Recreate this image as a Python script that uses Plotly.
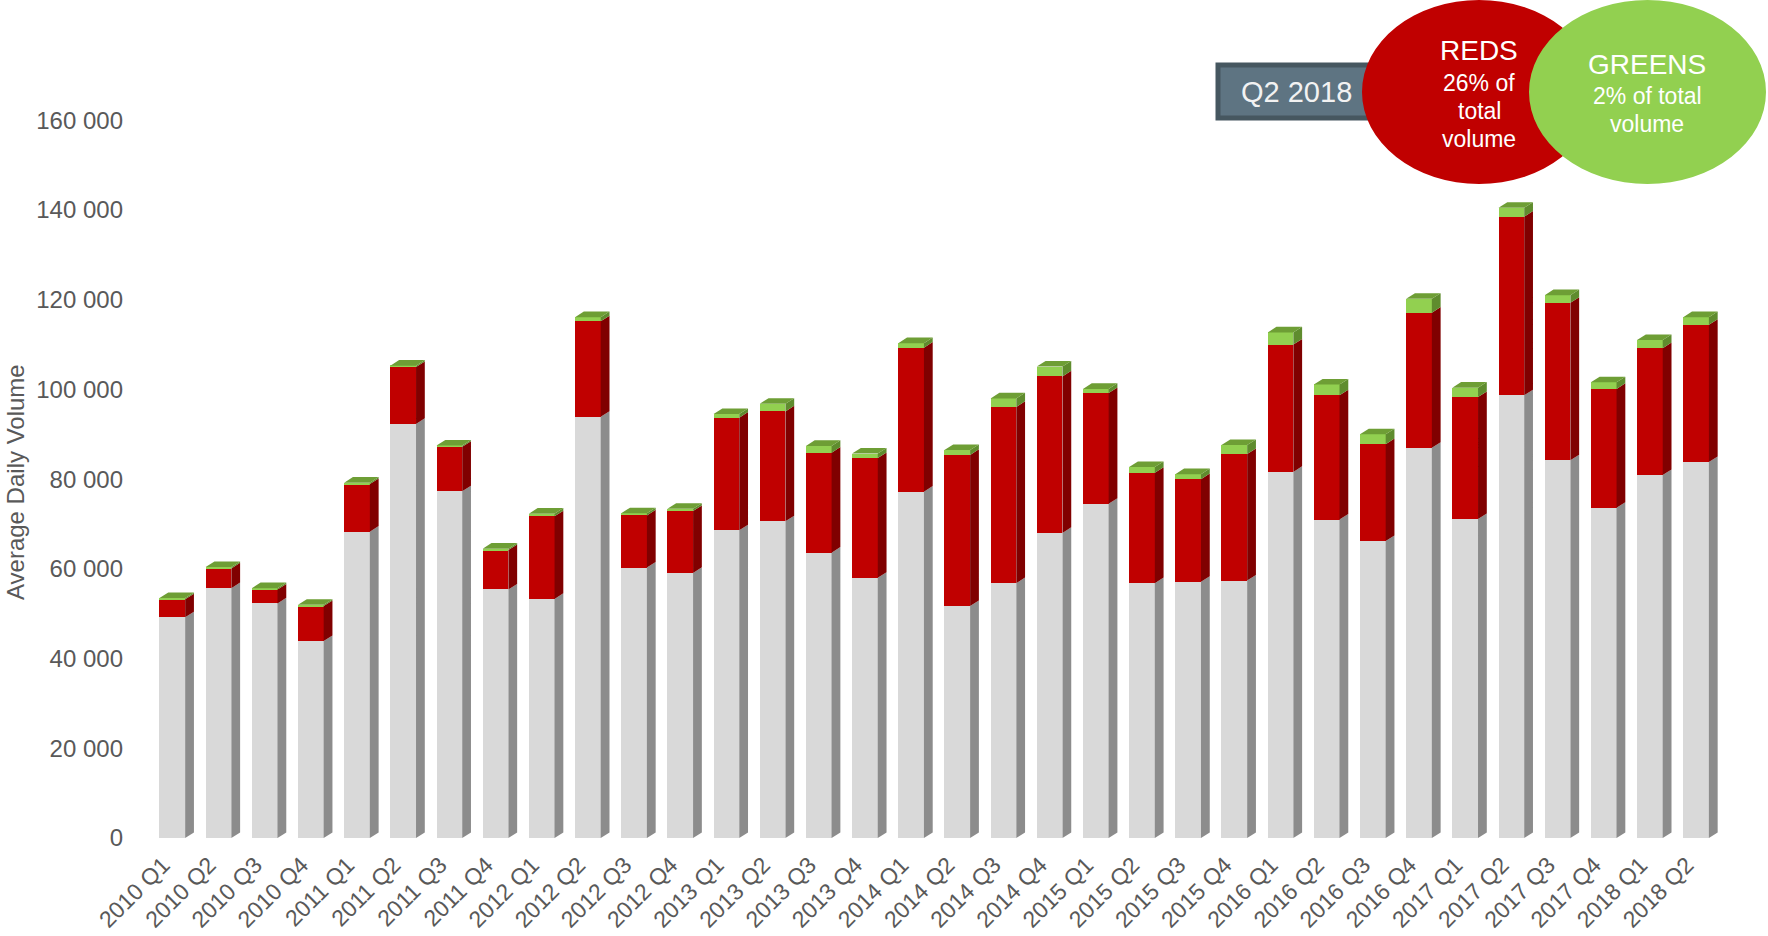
import plotly.graph_objects as go

# ---------------- data ----------------
categories = [
    "2010 Q1", "2010 Q2", "2010 Q3", "2010 Q4",
    "2011 Q1", "2011 Q2", "2011 Q3", "2011 Q4",
    "2012 Q1", "2012 Q2", "2012 Q3", "2012 Q4",
    "2013 Q1", "2013 Q2", "2013 Q3", "2013 Q4",
    "2014 Q1", "2014 Q2", "2014 Q3", "2014 Q4",
    "2015 Q1", "2015 Q2", "2015 Q3", "2015 Q4",
    "2016 Q1", "2016 Q2", "2016 Q3", "2016 Q4",
    "2017 Q1", "2017 Q2", "2017 Q3", "2017 Q4",
    "2018 Q1", "2018 Q2",
]
greys = [49200, 55700, 52300, 43900, 68300, 92300, 77300, 55400, 53300, 93900,
         60300, 59100, 68600, 70600, 63600, 58000, 77200, 51700, 56800, 68000,
         74500, 56800, 57100, 57400, 81600, 71000, 66200, 87000, 71100, 98700,
         84200, 73600, 80900, 83800]
reds = [4000, 4400, 3100, 7800, 10600, 12700, 9900, 8800, 18400, 21300,
        11600, 13800, 25100, 24500, 22300, 26700, 32100, 33700, 39300, 34900,
        24700, 24600, 22900, 28200, 28400, 27700, 21600, 30100, 27200, 39800,
        35100, 26500, 28300, 30600]
greens = [300, 300, 300, 300, 300, 300, 300, 300, 600, 900,
          500, 500, 800, 1700, 1500, 1000, 1000, 1100, 1900, 2200,
          900, 1300, 1100, 2000, 2700, 2400, 2200, 3100, 2100, 2000,
          1700, 1500, 1800, 1700]
y_ticks = [0, 20000, 40000, 60000, 80000, 100000, 120000, 140000, 160000]
y_title = "Average Daily Volume"
box_label = "Q2 2018"
reds_lines = ["REDS", "26% of", "total", "volume"]
greens_lines = ["GREENS", "2% of total", "volume"]

# ---------------- styling / geometry ----------------
FONT = "Liberation Sans, Arial, sans-serif"
W_PX, H_PX = 1768, 936
M_L, M_R, M_T, M_B = 140, 35, 53, 98
PLOT_W = W_PX - M_L - M_R
PLOT_H = H_PX - M_T - M_B
BOTTOM_PX = H_PX - M_B


def px2x(px):
    return (px - M_L) / PLOT_W


def py2y(py):
    return (BOTTOM_PX - py) / PLOT_H


BAR_W = 0.556   # front face width (category units)
DX = 0.19       # depth shift to the right (category units)
DY = 1250       # depth shift upwards (value units)
LABEL_SHIFT = -0.2  # rotated tick labels sit slightly left of bar centre

FRONT = {"grey": "#D9D9D9", "red": "#C00000", "green": "#92D050"}
SIDE = {"grey": "#8C8C8C", "red": "#800000", "green": "#5F8C2E"}
TOP_GREEN = "#6E9E35"

xs = list(range(len(categories)))

fig = go.Figure()

series = [("grey", greys), ("red", reds), ("green", greens)]
for name, vals in series:
    fig.add_trace(go.Bar(
        x=xs, y=vals, width=BAR_W,
        marker=dict(color=FRONT[name], line=dict(width=0)),
        hoverinfo="skip", showlegend=False,
    ))

# side faces, computed from the stacked values
bases = [0] * len(xs)
for name, vals in series:
    px_, py_ = [], []
    for i, v in enumerate(vals):
        b = bases[i]
        t = b + v
        xr = xs[i] + BAR_W / 2
        px_ += [xr, xr + DX, xr + DX, xr, xr, None]
        py_ += [b, b + DY, t + DY, t, b, None]
        bases[i] = t
    fig.add_trace(go.Scatter(
        x=px_, y=py_, mode="lines", fill="toself",
        fillcolor=SIDE[name], line=dict(width=0, color=SIDE[name]),
        hoverinfo="skip", showlegend=False,
    ))

# top faces (green is always the top segment)
tx, ty = [], []
for i, T in enumerate(bases):
    xl = xs[i] - BAR_W / 2
    xr = xs[i] + BAR_W / 2
    tx += [xl, xr, xr + DX, xl + DX, xl, None]
    ty += [T, T, T + DY, T + DY, T, None]
fig.add_trace(go.Scatter(
    x=tx, y=ty, mode="lines", fill="toself",
    fillcolor=TOP_GREEN, line=dict(width=0, color=TOP_GREEN),
    hoverinfo="skip", showlegend=False,
))

# ---------------- decorations ----------------
shapes = [
    dict(type="rect", xref="paper", yref="paper",
         x0=px2x(1218), x1=px2x(1400), y0=py2y(118), y1=py2y(65),
         fillcolor="#5E7482", line=dict(color="#465760", width=5), layer="above"),
    dict(type="circle", xref="paper", yref="paper",
         x0=px2x(1362), x1=px2x(1596), y0=py2y(184), y1=py2y(0),
         fillcolor="#C00000", line=dict(width=0), layer="above"),
    dict(type="circle", xref="paper", yref="paper",
         x0=px2x(1529), x1=px2x(1766), y0=py2y(184), y1=py2y(0),
         fillcolor="#92D050", line=dict(width=0), layer="above"),
]

annotations = [
    dict(text=y_title, xref="paper", yref="paper", x=px2x(15), y=py2y(482),
         textangle=-90, showarrow=False, xanchor="center", yanchor="middle",
         font=dict(family=FONT, size=24, color="#595959")),
    dict(text=box_label, xref="paper", yref="paper", x=px2x(1296), y=py2y(92),
         showarrow=False, xanchor="center", yanchor="middle",
         font=dict(family=FONT, size=29, color="#F2F2F2")),
]
for txt, ypx, sz in zip(reds_lines, [50, 83, 111, 139], [28, 23, 23, 23]):
    annotations.append(dict(text=txt, xref="paper", yref="paper", x=px2x(1479), y=py2y(ypx),
                            showarrow=False, xanchor="center", yanchor="middle",
                            font=dict(family=FONT, size=sz, color="#FFFFFF")))
for txt, ypx, sz in zip(greens_lines, [64, 96, 124], [28, 23, 23]):
    annotations.append(dict(text=txt, xref="paper", yref="paper", x=px2x(1647), y=py2y(ypx),
                            showarrow=False, xanchor="center", yanchor="middle",
                            font=dict(family=FONT, size=sz, color="#FFFFFF")))

fig.update_layout(
    width=W_PX, height=H_PX,
    margin=dict(l=M_L, r=M_R, t=M_T, b=M_B, autoexpand=False),
    barmode="stack", bargap=0,
    paper_bgcolor="white", plot_bgcolor="white",
    showlegend=False,
    font=dict(family=FONT, color="#595959"),
    xaxis=dict(
        range=[-0.7, 33.8], tickmode="array",
        tickvals=[x + LABEL_SHIFT for x in xs], ticktext=categories,
        tickangle=-45, showgrid=False, zeroline=False, showline=False, ticks="",
        tickfont=dict(family=FONT, size=23, color="#595959"),
        ticklabelstandoff=8, fixedrange=True, automargin=False,
    ),
    yaxis=dict(
        range=[0, 175000], tickmode="array", tickvals=y_ticks,
        ticktext=[f"{v:,}".replace(",", " ") for v in y_ticks],
        showgrid=False, zeroline=False, showline=False, ticks="",
        tickfont=dict(family=FONT, size=24, color="#595959"),
        ticklabelstandoff=16, fixedrange=True, automargin=False,
    ),
    shapes=shapes,
    annotations=annotations,
)

fig.write_html(
    "out.html",
    config={"displayModeBar": False},
    post_script="document.body.style.margin='0';document.body.style.overflow='hidden';",
)
